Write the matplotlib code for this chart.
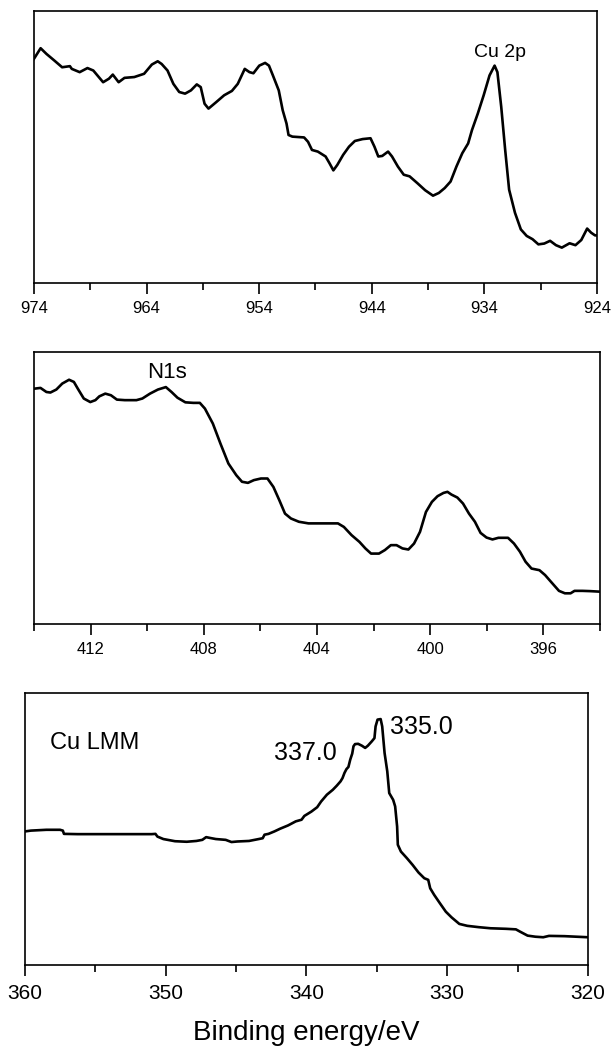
import numpy as np
import matplotlib
matplotlib.use("Agg")
import matplotlib.pyplot as plt
from matplotlib.ticker import MultipleLocator

plt.rcParams["font.family"] = ["Liberation Sans", "DejaVu Sans"]

# ---------------- Cu 2p ----------------
cu2p_be = [974.00, 973.41, 972.89, 972.20, 971.50, 970.81, 970.64, 969.94, 969.25, 968.73,
           967.86, 967.34, 967.00, 966.48, 965.96, 965.09, 964.22, 963.53, 963.01, 962.66,
           962.14, 961.62, 961.10, 960.58, 960.06, 959.54, 959.19, 958.85, 958.50, 957.81,
           957.11, 956.42, 955.90, 955.28, 954.86, 954.51, 953.99, 953.47, 953.13, 952.78,
           952.26, 951.91, 951.57, 951.39, 951.05, 950.01, 949.66, 949.31, 948.79, 948.10,
           947.75, 947.41, 947.06, 946.54, 946.02, 945.50, 944.81, 944.11, 943.76, 943.42,
           943.07, 942.55, 942.20, 941.68, 941.16, 940.64, 939.95, 939.26, 938.56, 938.04,
           937.52, 937.00, 936.48, 935.96, 935.44, 935.10, 934.58, 934.06, 933.54, 933.09,
           932.84, 932.50, 932.15, 931.80, 931.28, 930.76, 930.24, 929.72, 929.20, 928.68,
           928.16, 927.64, 927.12, 926.43, 925.91, 925.39, 924.87, 924.52, 924.17, 924.00]
cu2p_int = [82.4, 86.3, 84.2, 81.8, 79.3, 79.7, 78.7, 77.5, 79.0, 78.1,
            73.8, 75.1, 76.6, 73.8, 75.4, 75.7, 76.9, 80.3, 81.5, 80.5,
            78.1, 73.2, 70.2, 69.6, 70.8, 73.0, 72.0, 65.9, 64.1, 66.5,
            69.0, 70.6, 73.2, 78.7, 77.5, 77.1, 79.9, 80.9, 79.9, 76.3,
            70.8, 63.5, 58.6, 54.4, 53.8, 53.5, 51.9, 48.9, 48.3, 46.5,
            44.0, 41.4, 43.4, 47.1, 50.1, 52.2, 52.9, 53.2, 50.1, 46.5,
            46.7, 48.3, 46.5, 42.8, 39.8, 39.2, 36.7, 34.1, 32.1, 33.1,
            34.9, 37.3, 42.8, 47.7, 51.3, 56.2, 62.3, 69.0, 76.3, 79.9,
            77.5, 64.7, 48.9, 34.3, 25.8, 19.7, 17.3, 16.1, 14.2, 14.5,
            15.5, 13.9, 13.0, 14.6, 13.9, 15.8, 20.0, 18.5, 17.5, 17.5]

# ---------------- N 1s ----------------
n1s_be = [414.00, 413.77, 413.56, 413.42, 413.21, 413.00, 412.76, 412.59, 412.45, 412.24,
          412.01, 411.83, 411.69, 411.48, 411.28, 411.07, 410.79, 410.38, 410.17, 409.90,
          409.62, 409.34, 409.14, 408.93, 408.65, 408.37, 408.14, 407.96, 407.68, 407.41,
          407.13, 406.85, 406.65, 406.44, 406.23, 405.98, 405.75, 405.54, 405.33, 405.13,
          404.92, 404.64, 404.30, 403.88, 403.54, 403.26, 403.05, 402.78, 402.50, 402.29,
          402.09, 401.81, 401.60, 401.39, 401.19, 400.98, 400.77, 400.57, 400.36, 400.15,
          399.94, 399.74, 399.53, 399.39, 399.25, 399.04, 398.84, 398.63, 398.42, 398.22,
          398.01, 397.80, 397.59, 397.25, 397.04, 396.83, 396.63, 396.42, 396.14, 395.94,
          395.73, 395.45, 395.24, 395.04, 394.90, 394.62, 394.35, 394.00]
n1s_int = [86.5, 86.8, 85.3, 85.1, 86.2, 88.4, 89.8, 89.0, 86.5, 82.9,
           81.6, 82.3, 83.7, 84.7, 84.1, 82.5, 82.3, 82.3, 82.9, 84.7,
           86.2, 87.1, 85.3, 83.2, 81.5, 81.3, 81.3, 79.2, 73.7, 66.3,
           59.0, 54.7, 52.3, 51.9, 52.9, 53.5, 53.5, 50.4, 45.5, 40.6,
           38.8, 37.6, 37.0, 37.0, 37.0, 37.0, 35.7, 32.7, 30.2, 27.8,
           25.9, 25.9, 27.2, 29.0, 29.0, 27.8, 27.4, 29.6, 33.9, 41.2,
           44.9, 47.0, 48.2, 48.6, 47.6, 46.5, 44.3, 40.6, 37.6, 33.5,
           31.8, 31.1, 31.7, 31.7, 29.6, 26.6, 22.9, 20.4, 19.8, 18.0,
           15.5, 12.2, 11.3, 11.3, 12.2, 12.2, 12.1, 11.9]

# ---------------- Cu LMM ----------------
lmm_be = [360.00, 359.58, 358.48, 357.51, 357.31, 357.23, 356.26, 353.49, 351.00, 350.73,
          350.59, 350.17, 349.34, 348.51, 347.82, 347.40, 347.13, 346.85, 346.44, 345.74,
          345.33, 344.91, 344.08, 343.39, 343.11, 342.98, 342.70, 342.28, 341.87, 341.31,
          340.76, 340.35, 340.15, 339.93, 339.65, 339.24, 338.96, 338.55, 338.13, 337.85,
          337.58, 337.44, 337.30, 337.16, 337.02, 336.89, 336.75, 336.66, 336.55, 336.33,
          336.06, 335.83, 335.64, 335.36, 335.17, 335.09, 334.95, 334.73, 334.62, 334.45,
          334.26, 334.12, 333.84, 333.70, 333.56, 333.51, 333.29, 332.87, 332.46, 332.04,
          331.63, 331.35, 331.21, 330.93, 330.52, 330.10, 329.69, 329.14, 328.58, 327.75,
          326.92, 325.81, 325.12, 324.84, 324.29, 323.74, 323.18, 322.77, 321.66, 320.00]
lmm_int = [49.1, 49.4, 49.7, 49.7, 49.4, 48.2, 48.1, 48.1, 48.1, 48.2,
           47.2, 46.3, 45.5, 45.3, 45.6, 46.0, 47.0, 46.7, 46.3, 46.0,
           45.2, 45.4, 45.6, 46.3, 46.6, 47.9, 48.2, 49.1, 50.1, 51.3,
           52.8, 53.4, 54.8, 55.5, 56.4, 58.0, 60.1, 62.6, 64.4, 65.9,
           67.5, 68.7, 70.6, 72.0, 72.8, 75.5, 77.7, 80.4, 81.2, 81.3,
           80.6, 79.8, 80.6, 82.2, 83.4, 87.7, 90.2, 90.4, 87.7, 77.9,
           71.2, 63.2, 60.7, 58.3, 50.9, 44.2, 41.7, 39.3, 36.8, 34.0,
           31.9, 31.3, 28.2, 25.8, 22.7, 19.6, 17.5, 15.1, 14.4, 13.9,
           13.5, 13.3, 13.1, 12.3, 10.8, 10.4, 10.2, 10.7, 10.6, 10.2]

fig = plt.figure(figsize=(6.11, 10.52), dpi=100)

ax1 = fig.add_axes([0.0556, 0.731, 0.9214, 0.2586])
ax2 = fig.add_axes([0.0556, 0.4068, 0.9264, 0.2586])
ax3 = fig.add_axes([0.0409, 0.0827, 0.9214, 0.2586])


def style(ax, xlim, major, minor, offset, fs, pad):
    ax.set_xlim(*xlim)
    ax.set_ylim(0, 100)
    ax.xaxis.set_major_locator(MultipleLocator(major, offset=offset))
    ax.xaxis.set_minor_locator(MultipleLocator(minor, offset=offset))
    ax.tick_params(axis="x", which="major", direction="out", length=8, width=1.2,
                   labelsize=fs, pad=pad)
    ax.tick_params(axis="x", which="minor", direction="out", length=5, width=1.2)
    ax.set_yticks([])
    for s in ax.spines.values():
        s.set_linewidth(1.2)


ax1.plot(cu2p_be, cu2p_int, color="black", lw=1.9)
style(ax1, (974, 924), 10, 5, 4, 12, 5)
ax1.text(932.6, 84.6, "Cu 2p", fontsize=14, ha="center", va="center")

ax2.plot(n1s_be, n1s_int, color="black", lw=1.9)
style(ax2, (414, 394), 4, 2, 0, 12, 5)
ax2.text(409.3, 92.3, "N1s", fontsize=16, ha="center", va="center")

ax3.plot(lmm_be, lmm_int, color="black", lw=1.9)
style(ax3, (360, 320), 10, 5, 0, 15, 6)
ax3.text(358.2, 81.6, "Cu LMM", fontsize=17, ha="left", va="center")
ax3.text(340.1, 77.9, "337.0", fontsize=18, ha="center", va="center")
ax3.text(334.1, 87.5, "335.0", fontsize=18, ha="left", va="center")
ax3.set_xlabel("Binding energy/eV", fontsize=20, labelpad=12)

fig.savefig("out.png", dpi=100)
